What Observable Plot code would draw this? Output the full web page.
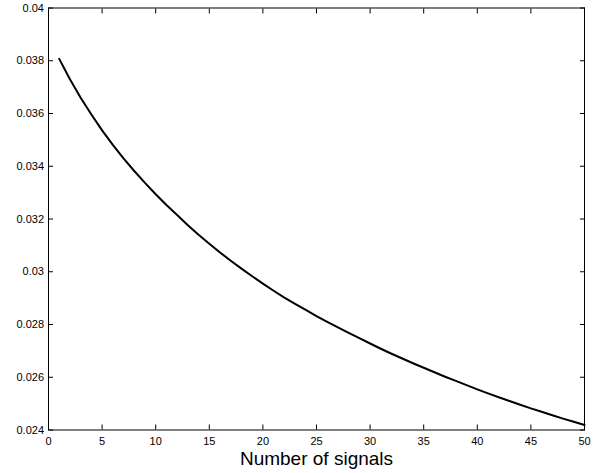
<!DOCTYPE html>
<html><head><meta charset="utf-8">
<script src="https://cdn.jsdelivr.net/npm/d3@7"></script>
<script src="https://cdn.jsdelivr.net/npm/@observablehq/plot@0.6"></script>
<style>body{margin:0;background:#fff} svg{display:block}</style>
</head><body><div id="chart"></div>
<script>
const signals = [1,2,3,4,5,6,7,8,9,10,11,12,13,14,15,16,17,18,19,20,21,22,23,24,25,26,27,28,29,30,31,32,33,34,35,36,37,38,39,40,41,42,43,44,45,46,47,48,49,50];
const values = [0.03807,0.03730,0.03660,0.03596,0.03536,0.03481,0.03430,0.03382,0.03337,0.03294,
0.03253,0.03215,0.03176,0.03140,0.03106,0.03073,0.03042,0.03012,0.02983,0.02955,
0.02928,0.02902,0.02878,0.02855,0.02832,0.02810,0.02789,0.02768,0.02748,0.02728,
0.02708,0.02689,0.02671,0.02653,0.02636,0.02619,0.02602,0.02586,0.02570,0.02554,
0.02539,0.02524,0.02510,0.02496,0.02482,0.02469,0.02456,0.02443,0.02431,0.02419];
const xTicks = [0,5,10,15,20,25,30,35,40,45,50];
const yTicks = [0.024,0.026,0.028,0.03,0.032,0.034,0.036,0.038,0.04];
const xLabel = "Number of signals";

const data = signals.map((n, i) => ({n, v: values[i]}));
const fmtY = d => String(+d.toFixed(3));
const blank = () => "";

const chart = Plot.plot({
  width: 606, height: 473,
  marginLeft: 48, marginRight: 22, marginTop: 7.5, marginBottom: 43.5,
  style: {fontFamily: "Arial, 'Liberation Sans', Helvetica, sans-serif", fontSize: "11px", background: "white", color: "black"},
  x: {domain: [0, 50]},
  y: {domain: [0.024, 0.04]},
  marks: [
    Plot.axisX({ticks: xTicks, anchor: "bottom", tickSize: 0, tickPadding: 7, label: null, fontSize: 11}),
    Plot.axisX({ticks: xTicks, anchor: "bottom", tickSize: -5, tickFormat: blank, label: null}),
    Plot.axisX({ticks: xTicks, anchor: "top", tickSize: -5, tickFormat: blank, label: null}),
    Plot.axisY({ticks: yTicks, anchor: "left", tickSize: 0, tickPadding: 4.5, tickFormat: fmtY, label: null, fontSize: 11}),
    Plot.axisY({ticks: yTicks, anchor: "left", tickSize: -5, tickFormat: blank, label: null}),
    Plot.axisY({ticks: yTicks, anchor: "right", tickSize: -5, tickFormat: blank, label: null}),
    Plot.frame({stroke: "black", strokeWidth: 1}),
    Plot.line(data, {x: "n", y: "v", stroke: "black", strokeWidth: 2}),
    Plot.text([xLabel], {text: d => d, frameAnchor: "bottom", dy: 35, fontSize: 19, fill: "black"})
  ]
});
document.getElementById("chart").appendChild(chart);
</script>
</body></html>
